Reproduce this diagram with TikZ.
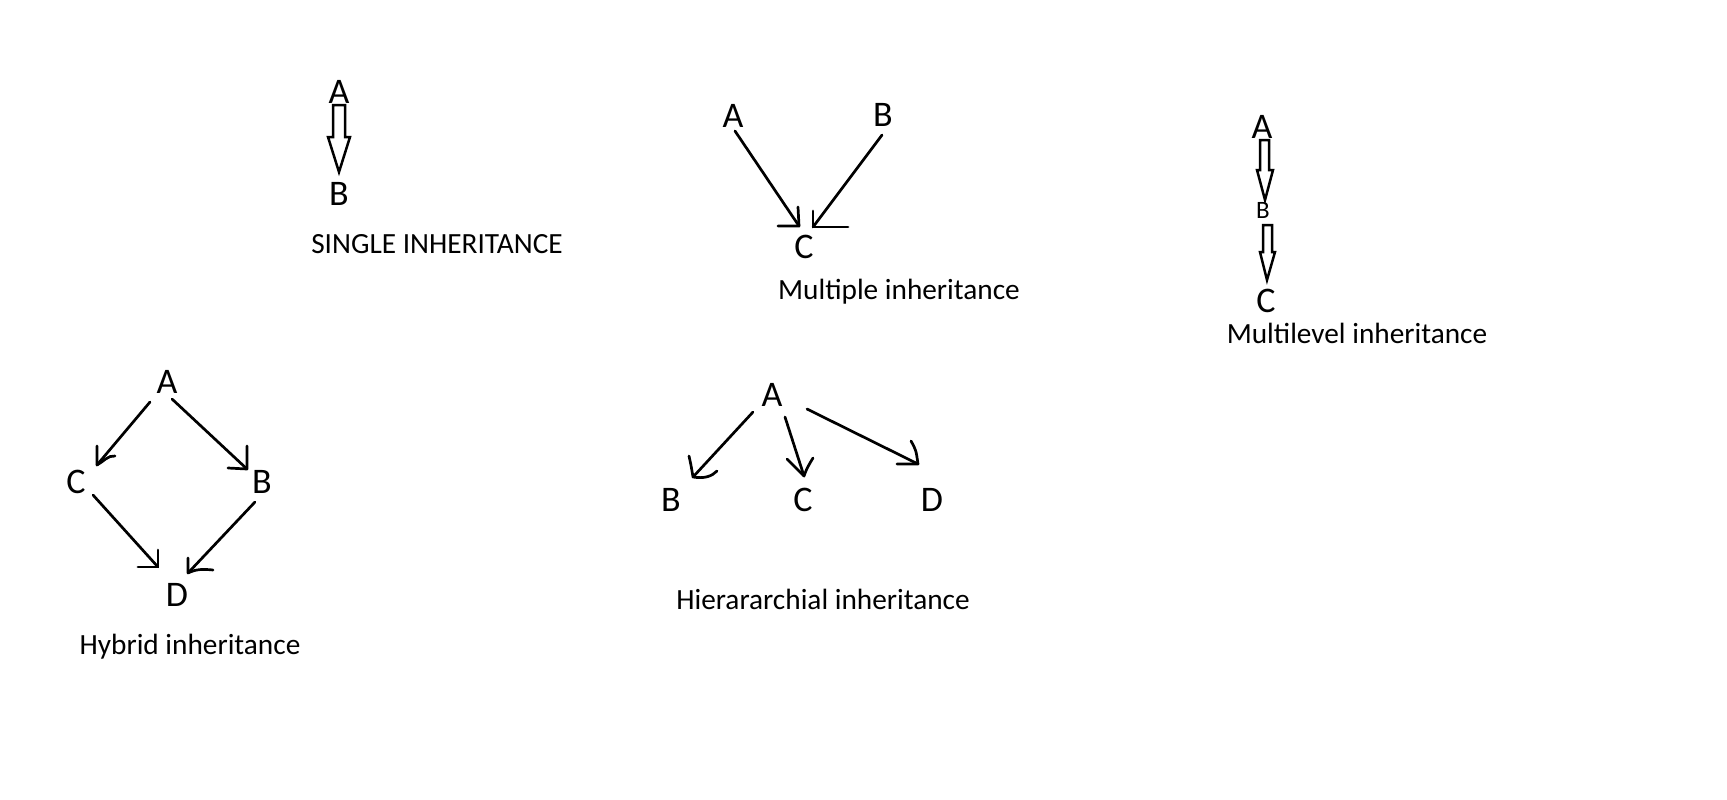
\documentclass[tikz,border=0pt]{standalone}
\usepackage{fontspec}
\setmainfont{Carlito}
\begin{document}
\begin{tikzpicture}[x=1pt,y=-1pt,
  letter/.style={inner sep=0pt,font=\fontsize{36}{40}\selectfont},
  smallletter/.style={inner sep=0pt,font=\fontsize{25}{28}\selectfont},
  caption/.style={inner sep=0pt,anchor=base,font=\fontsize{29.3}{33}\selectfont},
  stroke/.style={line width=2.7pt,line cap=round,line join=round},
  hollow/.style={line width=2.5pt,line join=miter}]
\useasboundingbox (0,0) rectangle (1727,800);
\fill[white] (0,0) rectangle (1727,800);

% ---------- Single inheritance ----------
\node[letter] (sA) at (339,92) {A};
\node[letter] (sB) at (339,194) {B};
\node[caption] (sL) at (437,253) {SINGLE INHERITANCE};
\draw[hollow] (333,105) -- (345,105) -- (345,137) -- (350,137) -- (339,172) -- (328,137) -- (333,137) -- cycle;

% ---------- Multiple inheritance ----------
\node[letter] (mA) at (733,116) {A};
\node[letter] (mB) at (883,115) {B};
\node[letter] (mC) at (804,247) {C};
\node[caption] (mL) at (899,299) {Multiple inheritance};
\coordinate (mA1) at (735,131);
\coordinate (mA2) at (799,226);
\coordinate (mB1) at (882,135);
\coordinate (mB2) at (813,227);
\draw[stroke] (mA1) -- (mA2);
\draw[stroke] (798,207) -- (mA2) -- (778,226);
\draw[stroke] (mB1) -- (mB2);
\draw[stroke] (813,211) -- (mB2) -- (848,227);

% ---------- Multilevel inheritance ----------
\node[letter] (lA) at (1262,127) {A};
\node[smallletter] (lB) at (1263,210) {B};
\node[letter] (lC) at (1266,301) {C};
\node[caption] (lL) at (1357,343) {Multilevel inheritance};
\draw[hollow] (1260,140) -- (1269,140) -- (1269,170) -- (1273,170) -- (1265,200) -- (1257,170) -- (1260,170) -- cycle;
\draw[hollow] (1263,225) -- (1272,225) -- (1272,252) -- (1275,252) -- (1267,280) -- (1260,252) -- (1263,252) -- cycle;

% ---------- Hybrid inheritance ----------
\node[letter] (hA) at (167,382) {A};
\node[letter] (hC) at (76,482) {C};
\node[letter] (hB) at (262,482) {B};
\node[letter] (hD) at (177,595) {D};
\node[caption] (hL) at (190,654) {Hybrid inheritance};
\coordinate (hAC1) at (150,402);
\coordinate (hAC2) at (97,465);
\coordinate (hAB1) at (172,399);
\coordinate (hAB2) at (247,469);
\coordinate (hCD1) at (93,495);
\coordinate (hCD2) at (158,567);
\coordinate (hBD1) at (255,502);
\coordinate (hBD2) at (188,573);
\draw[stroke] (hAC1) -- (hAC2);
\draw[stroke] (97,446) -- (hAC2) .. controls (103,462) and (108,455) .. (115,456);
\draw[stroke] (hAB1) -- (hAB2);
\draw[stroke] (247,446) -- (hAB2) -- (228,468);
\draw[stroke] (hCD1) -- (hCD2);
\draw[stroke] (158,550) -- (hCD2) -- (138,567);
\draw[stroke] (hBD1) -- (hBD2);
\draw[stroke] (188,558) -- (hBD2) .. controls (196,569) and (203,569) .. (213,570);

% ---------- Hierarchical inheritance ----------
\node[letter] (rA) at (772,395) {A};
\node[letter] (rB) at (671,500) {B};
\node[letter] (rC) at (803,500) {C};
\node[letter] (rD) at (932,500) {D};
\node[caption] (rL) at (823,609) {Hierararchial inheritance};
\coordinate (rAB1) at (753,412);
\coordinate (rAB2) at (693,477);
\coordinate (rAC1) at (785,417);
\coordinate (rAC2) at (804,476);
\coordinate (rAD1) at (807,409);
\coordinate (rAD2) at (916,463);
\draw[stroke] (rAB1) -- (rAB2);
\draw[stroke] (689,456) .. controls (691,465) .. (rAB2) .. controls (705,479) and (712,476) .. (717,471);
\draw[stroke] (rAC1) -- (rAC2);
\draw[stroke] (787,459) -- (rAC2) .. controls (807,468) .. (813,458);
\draw[stroke] (rAD1) -- (rAD2);
\draw[stroke] (911,441) .. controls (916,450) .. (918,464) -- (897,464);
\end{tikzpicture}
\end{document}
